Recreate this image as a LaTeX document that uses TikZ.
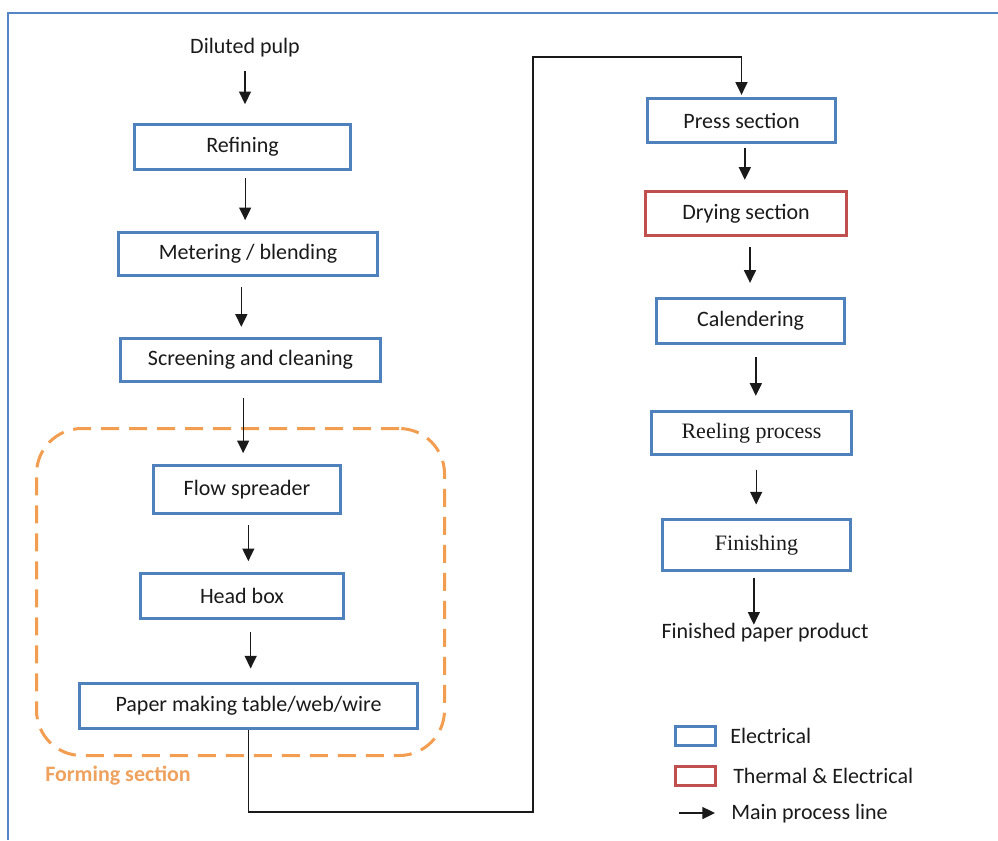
\documentclass[tikz,border=0pt]{standalone}
\usepackage{fontspec}
\setmainfont{Carlito}
\newfontfamily\timesface{Liberation Serif}
\usetikzlibrary{arrows.meta}

\definecolor{elecblue}{HTML}{4F81BD}
\definecolor{thermred}{HTML}{C0504D}
\definecolor{formorange}{HTML}{F29D4F}
\definecolor{formtext}{HTML}{EFA25E}
\definecolor{framecol}{HTML}{5585C5}
\definecolor{inkcol}{HTML}{1A1A1A}

\tikzset{
  procbox/.style={draw=elecblue, line width=2.5pt, fill=white, inner sep=0pt,
    text=inkcol, font=\fontsize{16.5pt}{19pt}\selectfont},
  thermbox/.style={procbox, draw=thermred},
  plain/.style={inner sep=0pt, text=inkcol, font=\fontsize{16.5pt}{19pt}\selectfont},
  flow/.style={draw=inkcol, line width=1pt, -{Triangle[length=9.5pt,width=9pt]}},
  formbox/.style={draw=formorange, line width=2.25pt, dash pattern=on 13.5pt off 7.5pt,
    rounded corners=34pt, inner sep=0pt},
  frameline/.style={draw=framecol, line width=1.8pt},
}

\begin{document}
\begin{tikzpicture}[x=0.75pt, y=-0.75pt]
\useasboundingbox (0,0) rectangle (998,840);

% outer frame, cut off on the right and at the bottom
\draw[frameline] (998,13) -- (8,13) -- (8,840);

% forming section outline
\node[formbox, minimum width=306pt, minimum height=245.25pt] (forming) at (240.5,592) {};
\node[plain, anchor=west, text=formtext, font=\fontsize{16.5pt}{19pt}\selectfont\bfseries]
  (formlabel) at (45,776) {Forming section};

% left column
\node[plain] (pulp) at (245,48) {Diluted pulp};
\node[procbox, minimum width=162pt, minimum height=33.75pt] (refining) at (242.5,147) {Refining};
\node[procbox, minimum width=194.25pt, minimum height=32.25pt] (metering) at (248,254) {Metering / blending};
\node[procbox, minimum width=195pt, minimum height=32.25pt] (screening) at (250.5,360) {Screening and cleaning};
\node[procbox, minimum width=140.25pt, minimum height=36pt] (flowsp) at (247,489.5) {Flow spreader};
\node[procbox, minimum width=152.25pt, minimum height=33.75pt] (headbox) at (242,596) {Head box};
\node[procbox, minimum width=253.5pt, minimum height=33.75pt] (table) at (248.5,706) {Paper making table/web/wire};

% right column
\node[procbox, minimum width=141pt, minimum height=33pt] (press) at (741.5,120.5) {Press section};
\node[thermbox, minimum width=150.75pt, minimum height=33pt] (drying) at (746,213.5) {Drying section};
\node[procbox, minimum width=141pt, minimum height=33.75pt] (calender) at (750.5,321) {Calendering};
\node[procbox, minimum width=150pt, minimum height=32.25pt, font=\fontsize{16.5pt}{19pt}\timesface] (reeling) at (751.5,433) {Reeling process};
\node[procbox, minimum width=141pt, minimum height=38.25pt, font=\fontsize{16.5pt}{19pt}\timesface] (finishing) at (756.5,545) {Finishing};
\node[plain] (product) at (765,633) {Finished paper product};

% arrows of the left column
\draw[flow, shorten <=10pt, shorten >=14pt] (pulp.south) -- (pulp.south |- refining.north);
\draw[flow, shorten <=5pt, shorten >=8pt] ([xshift=2pt]refining.south) -- ([xshift=2pt]refining.south |- metering.north);
\draw[flow, shorten <=7.5pt, shorten >=7.5pt] ([xshift=-5pt]metering.south) -- ([xshift=-5pt]metering.south |- screening.north);
\draw[flow, shorten <=11pt, shorten >=8pt] ([xshift=-5.5pt]screening.south) -- ([xshift=-5.5pt]screening.south |- flowsp.north);
\draw[flow, shorten <=7.5pt, shorten >=8pt] ([xshift=1pt]flowsp.south) -- ([xshift=1pt]flowsp.south |- headbox.north);
\draw[flow, shorten <=9pt, shorten >=10pt] ([xshift=6.5pt]headbox.south) -- ([xshift=6.5pt]headbox.south |- table.north);

% link from the forming section to the press section
\coordinate (lowturn) at (533,812);
\coordinate (highturn) at (533,57);
\draw[flow, shorten >=1.5pt] (table.south) |- (lowturn) -- (highturn) -| (press.north);

% arrows of the right column
\draw[flow, shorten <=3pt, shorten >=7.5pt] ([xshift=2.5pt]press.south) -- ([xshift=2.5pt]press.south |- drying.north);
\draw[flow, shorten <=7.5pt, shorten >=10.5pt] ([xshift=3pt]drying.south) -- ([xshift=3pt]drying.south |- calender.north);
\draw[flow, shorten <=9pt, shorten >=10.5pt] ([xshift=4pt]calender.south) -- ([xshift=4pt]calender.south |- reeling.north);
\draw[flow, shorten <=10pt, shorten >=10pt] ([xshift=3.5pt]reeling.south) -- ([xshift=3.5pt]reeling.south |- finishing.north);
\draw[flow, shorten <=4.5pt, shorten >=-1pt] ([xshift=-2pt]finishing.south) -- ([xshift=-2pt]finishing.south |- product.north);

% legend
\node[procbox, minimum width=30pt, minimum height=14.25pt] (keyelec) at (695.5,736) {};
\node[thermbox, minimum width=30pt, minimum height=14.25pt] (keytherm) at (695.5,776) {};
\node[plain, anchor=west] (keyelectext) at (730,736) {Electrical};
\node[plain, anchor=west] (keythermtext) at (733,776) {Thermal \& Electrical};
\coordinate (keyarrowstart) at (679,813);
\node[plain, anchor=west] (keyflowtext) at (731,814) {Main process line};
\draw[flow] (keyarrowstart) -- (715,813);
\end{tikzpicture}
\end{document}
